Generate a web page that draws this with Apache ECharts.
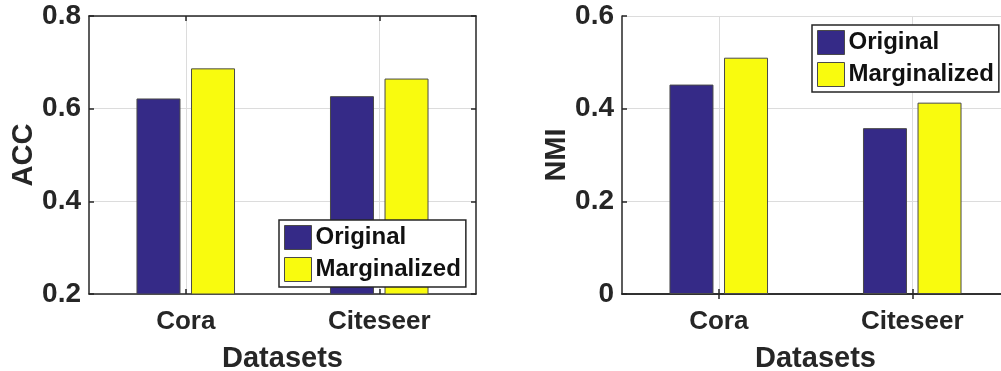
<!DOCTYPE html>
<html>
<head>
<meta charset="utf-8">
<script src="https://cdn.jsdelivr.net/npm/echarts@6/dist/echarts.min.js"></script>
<style>
html,body{margin:0;padding:0;background:#fff;}
#chart{width:1001px;height:371px;}
</style>
</head>
<body>
<div id="chart"></div>
<script>
const categories = ['Cora', 'Citeseer'];
const seriesNames = ['Original', 'Marginalized'];
const accOriginal = [0.622, 0.627];
const accMarginalized = [0.687, 0.665];
const nmiOriginal = [0.452, 0.358];
const nmiMarginalized = [0.510, 0.413];
const accTicks = [0.2, 0.4, 0.6, 0.8];
const nmiTicks = [0, 0.2, 0.4, 0.6];

const FONT = '"Liberation Sans", Arial, sans-serif';
const DARK = '#262626';
const colors = ['#352a87', '#f9fb0e'];

const chart = echarts.init(document.getElementById('chart'), null, {renderer: 'canvas'});

function fmt(v) { return v === 0 ? '0' : (+v).toFixed(1); }

function xAxis(gi) {
  return {
    type: 'category', gridIndex: gi, data: categories,
    name: 'Datasets', nameLocation: 'middle', nameGap: 50,
    nameTextStyle: {fontFamily: FONT, fontWeight: 'bold', fontSize: 29, color: DARK},
    axisLine: {show: true, lineStyle: {color: DARK, width: 1.5}},
    axisTick: {show: true, inside: true, alignWithLabel: true, length: 5, lineStyle: {color: DARK, width: 1.5}},
    axisLabel: {fontFamily: FONT, fontWeight: 'bold', fontSize: 26, color: DARK, margin: 15},
    splitLine: {show: true, alignWithLabel: true, lineStyle: {color: '#dcdcdc', width: 1}}
  };
}
function yAxis(gi, name, ticks) {
  return {
    type: 'value', gridIndex: gi, min: ticks[0], max: ticks[ticks.length - 1], interval: 0.2,
    name: name, nameLocation: 'middle', nameGap: 50, nameRotate: 90,
    nameTextStyle: {fontFamily: FONT, fontWeight: 'bold', fontSize: 29, color: DARK},
    axisLine: {show: true, lineStyle: {color: DARK, width: 1.5}},
    axisTick: {show: true, inside: true, length: 5, lineStyle: {color: DARK, width: 1.5}},
    axisLabel: {fontFamily: FONT, fontWeight: 'bold', fontSize: 28, color: DARK, margin: 8, formatter: fmt},
    splitLine: {show: true, lineStyle: {color: '#dcdcdc', width: 1}}
  };
}
function yAxisRight(gi, ticks) {
  return {
    type: 'value', gridIndex: gi, position: 'right', min: ticks[0], max: ticks[ticks.length - 1], interval: 0.2,
    axisLine: {show: true, lineStyle: {color: DARK, width: 1.5}},
    axisTick: {show: true, inside: true, length: 5, lineStyle: {color: DARK, width: 1.5}},
    axisLabel: {show: false}, splitLine: {show: false}
  };
}
function xAxisTop(gi) {
  return {
    type: 'category', gridIndex: gi, position: 'top', data: categories,
    axisLine: {show: true, lineStyle: {color: DARK, width: 1.5}},
    axisTick: {show: true, inside: true, alignWithLabel: true, length: 5, lineStyle: {color: DARK, width: 1.5}},
    axisLabel: {show: false}, splitLine: {show: false}
  };
}
function bar(name, data, xi, yi, ci) {
  return {
    type: 'bar', name: name, data: data, xAxisIndex: xi, yAxisIndex: yi,
    barWidth: 44, barGap: '24%',
    itemStyle: {color: colors[ci], borderColor: '#4a4a4a', borderWidth: 1},
    emphasis: {disabled: true}, silent: true, animation: false
  };
}
function legend(left, top) {
  return {
    data: seriesNames, orient: 'vertical', left: left, top: top,
    itemWidth: 27, itemHeight: 24, itemGap: 7, padding: [5, 5, 5, 5],
    backgroundColor: '#fff', borderColor: DARK, borderWidth: 1.5,
    icon: 'rect',
    itemStyle: {borderColor: '#4a4a4a', borderWidth: 1},
    textStyle: {fontFamily: FONT, fontWeight: 'bold', fontSize: 24, color: '#111', padding: [0, 0, 0, -1]},
    selectedMode: false
  };
}

chart.setOption({
  animation: false,
  backgroundColor: '#fff',
  grid: [
    {left: 89, width: 387, top: 16, height: 278, outerBoundsMode: 'none', containLabel: false},
    {left: 622, width: 387, top: 16, height: 278, outerBoundsMode: 'none', containLabel: false}
  ],
  xAxis: [xAxis(0), xAxis(1), xAxisTop(0), xAxisTop(1)],
  yAxis: [yAxis(0, 'ACC', accTicks), yAxis(1, 'NMI', nmiTicks), yAxisRight(0, accTicks), yAxisRight(1, nmiTicks)],
  legend: [legend(279, 220), legend(812, 25)],
  series: [
    bar(seriesNames[0], accOriginal, 0, 0, 0),
    bar(seriesNames[1], accMarginalized, 0, 0, 1),
    bar(seriesNames[0], nmiOriginal, 1, 1, 0),
    bar(seriesNames[1], nmiMarginalized, 1, 1, 1)
  ]
});
</script>
</body>
</html>
